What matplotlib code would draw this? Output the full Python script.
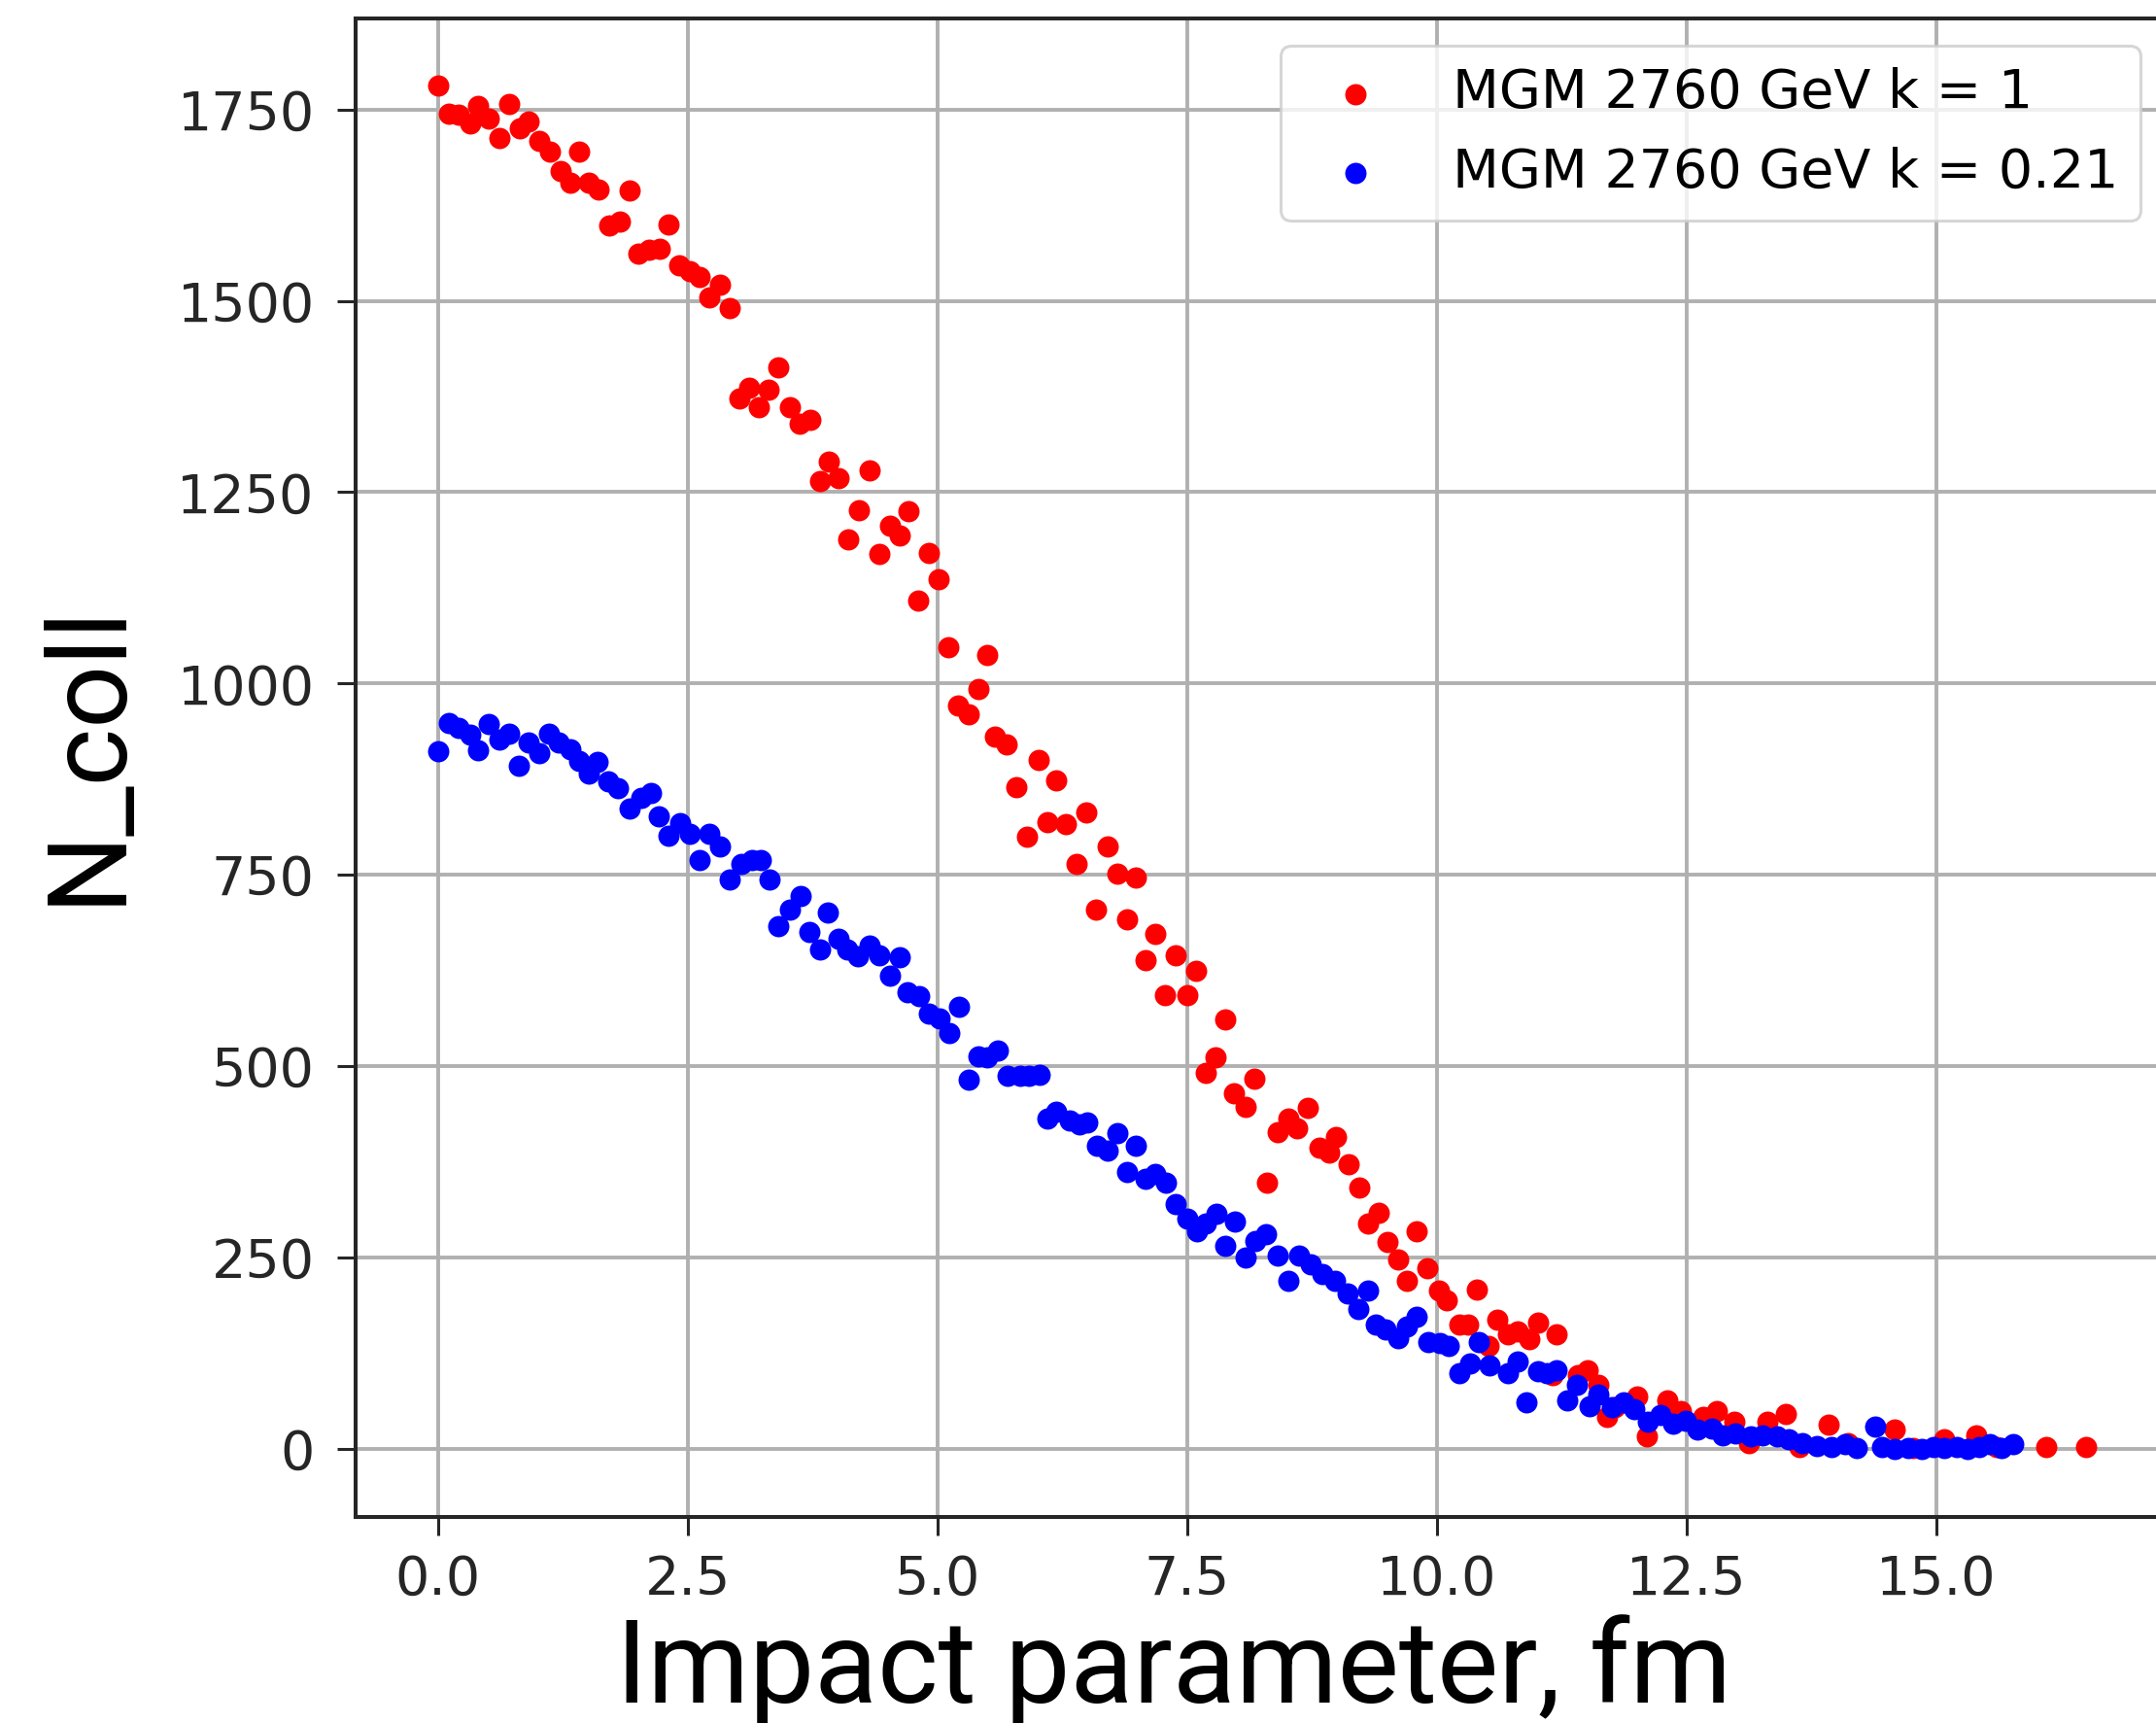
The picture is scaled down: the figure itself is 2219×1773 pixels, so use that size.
import matplotlib
matplotlib.use("Agg")
import matplotlib.pyplot as plt

# ---- data ----
red_b = [0.0, 0.11, 0.21, 0.32, 0.40, 0.51, 0.61, 0.71, 0.82, 0.91,
         1.01, 1.12, 1.23, 1.32, 1.41, 1.51, 1.61, 1.71, 1.82, 1.92,
         2.01, 2.11, 2.22, 2.31, 2.41, 2.52, 2.62, 2.72, 2.82, 2.92,
         3.02, 3.11, 3.21, 3.31, 3.41, 3.52, 3.62, 3.73, 3.82, 3.91,
         4.01, 4.11, 4.21, 4.32, 4.42, 4.52, 4.62, 4.71, 4.81, 4.91,
         5.01, 5.11, 5.21, 5.31, 5.41, 5.50,
         5.58, 5.69, 5.79, 5.90,
         6.01, 6.10, 6.19, 6.29, 6.39, 6.49, 6.59, 6.70, 6.80, 6.90, 6.99,
         7.08, 7.18, 7.28, 7.38, 7.50, 7.59, 7.69, 7.78, 7.88, 7.97,
         8.08, 8.17, 8.30, 8.41, 8.51, 8.60, 8.71, 8.82, 8.92, 8.99,
         9.12, 9.22, 9.31, 9.42, 9.50, 9.61, 9.70, 9.80, 9.90,
         10.02, 10.10, 10.22, 10.31, 10.40, 10.52, 10.60, 10.71, 10.81, 10.92,
         11.01, 11.16, 11.20, 11.41, 11.51, 11.62, 11.70, 11.78,
         12.00, 12.10, 12.31, 12.44, 12.67, 12.80, 12.98,
         13.12, 13.31, 13.49, 13.63, 13.92,
         14.12, 14.58, 14.77,
         15.08, 15.40, 15.60,
         16.10, 16.50]
red_ncoll = [1782, 1745, 1743, 1732, 1755, 1738, 1713, 1757, 1726, 1735,
             1709, 1695, 1670, 1655, 1695, 1655, 1645, 1599, 1603, 1644,
             1562, 1567, 1568, 1600, 1547, 1539, 1531, 1505, 1521, 1490,
             1372, 1387, 1361, 1384, 1413, 1361, 1340, 1344, 1265, 1290,
             1269, 1189, 1226, 1279, 1169, 1206, 1194, 1225, 1108, 1171,
             1136, 1047, 971, 960, 993, 1037,
             930, 920, 865, 800,
             900, 819, 874, 816, 764, 831, 705, 787, 751, 692, 746,
             639, 673, 593, 645, 593, 624, 491, 512, 561, 465,
             447, 484, 348, 414, 431, 419, 446, 393, 387, 408,
             372, 342, 294, 308, 270, 247, 219, 284, 236,
             207, 194, 162, 162, 208, 135, 169, 150, 154, 143,
             165, 97, 150, 97, 103, 84, 42, 54,
             69, 16, 63, 50, 42, 49, 35,
             8, 35, 46, 2, 31,
             8, 25, 1,
             12, 18, 2,
             3, 3]

blue_b = [0.0, 0.11, 0.21, 0.32, 0.40, 0.51, 0.61, 0.71, 0.81, 0.91,
          1.01, 1.11, 1.21, 1.32, 1.41, 1.51, 1.60, 1.70, 1.80, 1.92,
          2.03, 2.13, 2.21, 2.31, 2.42, 2.52, 2.62, 2.72, 2.82, 2.92,
          3.04, 3.14, 3.23, 3.32, 3.41, 3.52, 3.63, 3.72, 3.82, 3.90,
          4.01, 4.10, 4.20, 4.32, 4.42, 4.52, 4.62, 4.70, 4.82, 4.91,
          5.02, 5.12, 5.22, 5.31, 5.41, 5.50, 5.60, 5.70, 5.83, 5.92,
          6.02, 6.10, 6.19, 6.32, 6.42, 6.50, 6.60, 6.70, 6.80, 6.90, 6.99,
          7.08, 7.18, 7.29, 7.38, 7.50, 7.60, 7.69, 7.79, 7.88, 7.98,
          8.08, 8.18, 8.29, 8.41, 8.51, 8.62, 8.74, 8.85, 8.98,
          9.11, 9.21, 9.31, 9.39, 9.49, 9.61, 9.70, 9.80, 9.91,
          10.03, 10.12, 10.22, 10.33, 10.42, 10.53, 10.71, 10.81, 10.90,
          11.01, 11.10, 11.20, 11.30, 11.40, 11.53, 11.62, 11.75, 11.87, 11.98,
          12.11, 12.24, 12.36, 12.49, 12.61, 12.75, 12.86, 12.99,
          13.14, 13.26, 13.41, 13.52, 13.66, 13.80, 13.95,
          14.09, 14.20, 14.39, 14.46, 14.58, 14.72, 14.85, 14.97,
          15.08, 15.20, 15.31, 15.43, 15.54, 15.65, 15.77]
blue_ncoll = [911, 948, 942, 933, 913, 947, 927, 935, 893, 923,
              909, 934, 923, 914, 899, 882, 897, 872, 863, 837,
              851, 857, 827, 801, 817, 804, 769, 804, 787, 744,
              764, 770, 769, 744, 683, 704, 722, 675, 652, 701,
              666, 652, 644, 657, 645, 618, 642, 597, 591, 569,
              562, 543, 578, 483, 513, 512, 520, 487, 487, 487,
              489, 431, 441, 429, 424, 426, 396, 390, 413, 362, 396,
              353, 359, 348, 320, 301, 284, 294, 307, 265, 297,
              250, 271, 281, 253, 219, 253, 241, 228, 219,
              203, 183, 207, 162, 156, 145, 160, 173, 139,
              138, 135, 99, 111, 139, 109, 99, 114, 61,
              101, 99, 103, 63, 84, 56, 71, 54, 61, 52,
              35, 44, 33, 37, 25, 27, 18, 20,
              16, 18, 16, 12, 8, 4, 3,
              6, 1, 29, 3, 0, 1, 0, 3,
              1, 3, 0, 3, 6, 1, 6]

labels = ["MGM 2760 GeV k = 1", "MGM 2760 GeV k = 0.21"]
xticks = [0.0, 2.5, 5.0, 7.5, 10.0, 12.5, 15.0]
yticks = [0, 250, 500, 750, 1000, 1250, 1500, 1750]

assert len(red_b) == len(red_ncoll), (len(red_b), len(red_ncoll))
assert len(blue_b) == len(blue_ncoll), (len(blue_b), len(blue_ncoll))

W, H = 2219, 1773
fig = plt.figure(figsize=(W / 100, H / 100), dpi=100)
ax = fig.add_axes([366 / W, 1 - 1561 / H, (2232 - 366) / W, (1561 - 19) / H])

ax.scatter(red_b, red_ncoll, s=250, color="#ff0000", linewidths=0, label=labels[0], zorder=3)
ax.scatter(blue_b, blue_ncoll, s=250, color="#0000ff", linewidths=0, label=labels[1], zorder=3)

ax.set_xlim(-0.825, 17.325)
ax.set_ylim(-89, 1869)
ax.set_xticks(xticks)
ax.set_xticklabels([f"{t:.1f}" for t in xticks])
ax.set_yticks(yticks)
ax.set_yticklabels([str(t) for t in yticks])

ax.set_axisbelow(True)
ax.grid(True, color="#b0b0b0", linewidth=2.8)
for sp in ax.spines.values():
    sp.set_linewidth(2.9)
    sp.set_color("#262626")
ax.tick_params(axis="both", length=13.5, width=2.2, color="#262626",
               labelsize=40, labelcolor="#262626")
ax.tick_params(axis="y", pad=17)
ax.tick_params(axis="x", pad=14)

leg = ax.legend(loc="upper right", bbox_to_anchor=(2203 / W, 1 - 47 / H),
                bbox_transform=fig.transFigure, borderaxespad=0,
                fontsize=40, labelspacing=0.5, borderpad=0.4,
                framealpha=0.8, edgecolor="#cccccc", scatterpoints=1)
leg.get_frame().set_linewidth(2.2)

fig.text(1208 / W, 1 - 1752 / H, "Impact parameter, fm", family="Roboto",
         fontsize=86, ha="center", va="baseline", color="black")
fig.text(122 / W, 1 - 775 / H, "N_coll", family="Roboto", fontsize=82,
         rotation=90, rotation_mode="anchor", ha="center", va="baseline",
         color="black")

fig.savefig("out.png", dpi=100)
